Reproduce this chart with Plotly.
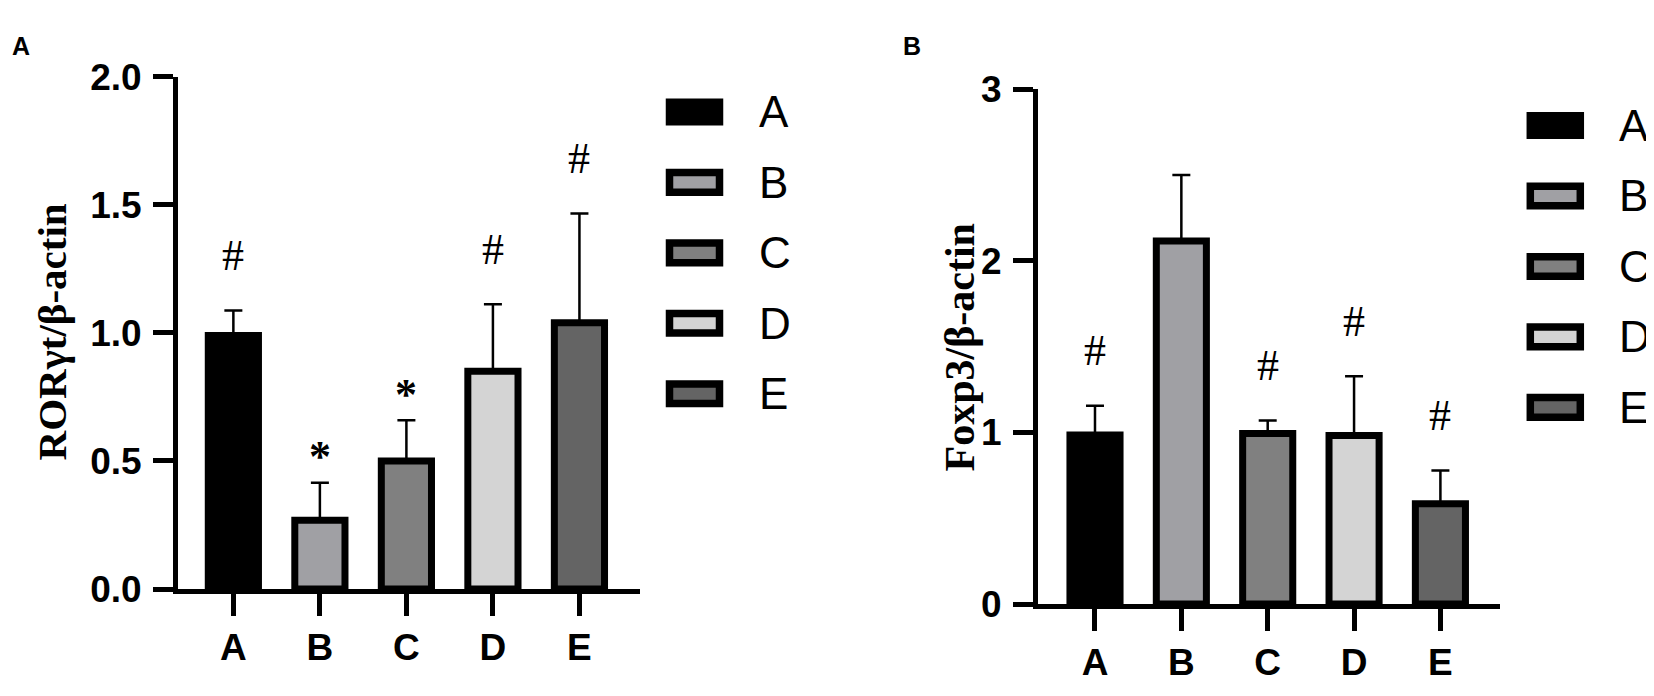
import plotly.graph_objects as go

# groups and bar fills (shared by both panels)
groups = ["A", "B", "C", "D", "E"]
fills = ["#000000", "#a0a0a4", "#808080", "#d4d4d4", "#646464"]

# panel A: RORgt / beta-actin
ror_mean = [0.99, 0.268, 0.50, 0.85, 1.04]
ror_err = [0.098, 0.147, 0.159, 0.262, 0.426]
ror_sig = ["#", "*", "*", "#", "#"]
ror_ticks = [0.0, 0.5, 1.0, 1.5, 2.0]

# panel B: Foxp3 / beta-actin
foxp3_mean = [0.985, 2.115, 0.993, 0.982, 0.584]
foxp3_err = [0.170, 0.385, 0.076, 0.345, 0.194]
foxp3_sig = ["#", "", "#", "#", "#"]
foxp3_ticks = [0, 1, 2, 3]

# the page body keeps its default 8px margin, so the figure is a bit
# smaller than the window and every position below is a page position
OFF = 8
W, H = 1654 - 2 * OFF + 8, 696 - 2 * OFF
SANS = "Liberation Sans, Arial, sans-serif"
SERIF = "Liberation Serif, Times New Roman, serif"


def px(x):
    return (x - OFF) / W


def py(y):
    return 1 - (y - OFF) / H


def bar_trace(mean, err, xa, ya):
    return go.Bar(
        x=groups, y=mean, xaxis=xa, yaxis=ya,
        width=0.58,
        marker=dict(color=fills, line=dict(color="black", width=7)),
        error_y=dict(type="data", array=err, arrayminus=[0] * len(err),
                     symmetric=False, color="black", thickness=2.5, width=9),
        showlegend=False,
    )


fig = go.Figure([
    bar_trace(ror_mean, ror_err, "x", "y"),
    bar_trace(foxp3_mean, foxp3_err, "x2", "y2"),
])

axis_style = dict(
    showgrid=False, zeroline=False, showline=True, linewidth=5,
    linecolor="black", ticks="outside", tickwidth=5, tickcolor="black",
    tickfont=dict(family=SANS, size=37, color="black", weight="bold"),
    fixedrange=True,
)

fig.update_layout(
    width=W, height=H, autosize=False,
    margin=dict(l=0, r=0, t=0, b=0),
    plot_bgcolor="white", paper_bgcolor="white",
    xaxis=dict(axis_style, type="category", domain=[px(178), px(640)],
               range=[-0.64, 4.70], ticklen=22, anchor="y"),
    yaxis=dict(axis_style, domain=[py(605), py(60)], range=[0, 2.0],
               tickvals=ror_ticks, tickformat=".1f", ticklen=20,
               ticklabelstandoff=4, anchor="x"),
    xaxis2=dict(axis_style, type="category", domain=[px(1038), px(1500)],
                range=[-0.66, 4.69], ticklen=22, anchor="y2"),
    yaxis2=dict(axis_style, domain=[py(621), py(73)], range=[0, 3],
                tickvals=foxp3_ticks, ticklen=20, ticklabelstandoff=4,
                anchor="x2"),
)

# significance marks above the error bars
for xa, ya, mean, err, sig in [("x", "y", ror_mean, ror_err, ror_sig),
                               ("x2", "y2", foxp3_mean, foxp3_err, foxp3_sig)]:
    for g, m, e, s in zip(groups, mean, err, sig):
        if not s:
            continue
        fig.add_annotation(
            x=g, y=m + e, xref=xa, yref=ya, text=s, showarrow=False,
            xanchor="center", yanchor="middle",
            yshift=55 if s == "#" else 26,
            font=dict(family=SERIF, size=44, color="black",
                      weight="bold" if s == "*" else "normal"),
        )

# axis titles
for text, x, y, size in [("RORγt/β-actin", 52, 332, 41),
                         ("Foxp3/β-actin", 959, 348, 42)]:
    fig.add_annotation(x=px(x), y=py(y), xref="paper", yref="paper",
                       text=text, textangle=-90, showarrow=False,
                       xanchor="center", yanchor="middle",
                       font=dict(family=SERIF, size=size, color="black",
                                 weight="bold"))

# panel letters
for label, x in [("A", 10), ("B", 901)]:
    fig.add_annotation(x=px(x), y=py(27), xref="paper", yref="paper",
                       text=label, showarrow=False, xanchor="left",
                       yanchor="middle",
                       font=dict(family=SANS, size=25, color="black", weight="bold"))

# hand-drawn legends, one per panel
for cx, top, tx in [(694.5, 97.3, 756.7), (1555.3, 111.7, 1616.7)]:
    for i, (g, c) in enumerate(zip(groups, fills)):
        cy = top + 75 * i
        fig.add_shape(type="rect", xref="paper", yref="paper",
                      x0=px(cx - 25), x1=px(cx + 25),
                      y0=py(cy + 10.4), y1=py(cy - 10.4),
                      fillcolor=c, line=dict(color="black", width=7.5))
        fig.add_annotation(x=px(tx), y=py(cy), xref="paper", yref="paper",
                           text=g, showarrow=False, xanchor="left",
                           yanchor="middle",
                           font=dict(family=SANS, size=44, color="black"))

fig.write_html("out.html")
